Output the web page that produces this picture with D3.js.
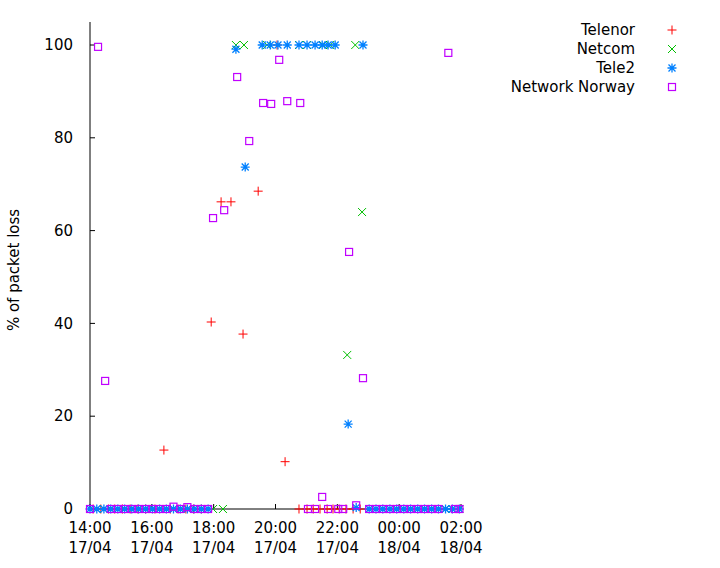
<!DOCTYPE html>
<html>
<head>
<meta charset="utf-8">
<script src="https://cdn.jsdelivr.net/npm/d3@7"></script>
<style>
  body { margin: 0; background: #fff; }
  text { font-family: "DejaVu Sans", sans-serif; font-size: 15px; fill: #000; }
</style>
</head>
<body>
<div id="chart"></div>
<script>
// hours after 14:00 17/04, and % packet loss
const telenorHours = [0.1, 0.35, 0.6, 0.8, 1.05, 1.3, 1.55, 1.8, 2.1, 2.39, 2.6, 2.85, 3.1, 3.35, 3.6, 3.92, 4.24, 4.56, 4.95, 5.44, 6.05, 6.31, 6.76, 7.02, 7.22, 7.44, 7.67, 7.86, 8.06, 8.28, 8.51, 8.74];
const telenorLoss  = [0, 0, 0, 0, 0, 0, 0, 0, 0, 12.7, 0, 0, 0, 0, 0, 40.3, 66.2, 66.2, 37.7, 68.5, 100, 10.2, 0, 0, 0, 0, 0, 0, 0, 0, 0, 0];

const netcomHours = [0.0, 0.22, 0.45, 0.67, 0.9, 1.12, 1.35, 1.57, 1.8, 2.02, 2.25, 2.47, 2.7, 2.92, 3.15, 3.37, 3.6, 3.98, 4.3, 4.72, 4.98, 5.73, 6.76, 7.02, 7.54, 7.77, 8.32, 8.58, 8.8, 9.03, 9.25, 9.47, 9.7, 9.92, 10.15, 10.37, 10.6, 10.82, 11.05, 11.27, 11.5, 11.72, 11.95];
const netcomLoss  = [0, 0, 0, 0, 0, 0, 0, 0, 0, 0, 0, 0, 0, 0, 0, 0, 0, 0, 0, 100, 100, 100, 100, 100, 100, 100, 33.2, 100, 64.0, 0, 0, 0, 0, 0, 0, 0, 0, 0, 0, 0, 0, 0, 0];

const tele2Hours = [0.0, 0.22, 0.45, 0.67, 0.9, 1.12, 1.35, 1.57, 1.8, 2.02, 2.25, 2.47, 2.7, 2.92, 3.15, 3.37, 3.6, 3.82, 4.72, 5.02, 5.57, 5.83, 6.08, 6.38, 6.76, 7.02, 7.28, 7.51, 7.7, 7.93, 8.35, 8.61, 8.83, 9.03, 9.25, 9.47, 9.7, 9.92, 10.15, 10.37, 10.6, 10.82, 11.05, 11.27, 11.5, 11.72, 11.95];
const tele2Loss  = [0, 0, 0, 0, 0, 0, 0, 0, 0, 0, 0, 0, 0, 0, 0, 0, 0, 0, 99.1, 73.7, 100, 100, 100, 100, 100, 100, 100, 100, 100, 100, 18.3, 0.3, 100, 0, 0, 0, 0, 0, 0, 0, 0, 0, 0, 0, 0, 0, 0];

const norwayHours = [0.0, 0.26, 0.49, 0.67, 0.9, 1.12, 1.35, 1.57, 1.8, 2.02, 2.25, 2.47, 2.7, 2.92, 3.15, 3.37, 3.6, 3.82, 3.98, 4.34, 4.76, 5.15, 5.6, 5.86, 6.12, 6.38, 6.8, 7.05, 7.28, 7.51, 7.7, 8.03, 8.19, 8.38, 8.61, 8.83, 9.03, 9.25, 9.47, 9.7, 9.92, 10.15, 10.37, 10.6, 10.82, 11.05, 11.27, 11.59, 11.8, 11.95];
const norwayLoss  = [0, 99.6, 27.6, 0, 0, 0, 0, 0, 0, 0, 0, 0, 0.5, 0, 0.4, 0, 0, 0, 62.7, 64.4, 93.1, 79.3, 87.5, 87.3, 96.8, 87.9, 87.5, 0, 0, 2.6, 0, 0, 0, 55.4, 0.8, 28.2, 0, 0, 0, 0, 0, 0, 0, 0, 0, 0, 0, 98.3, 0, 0];

const tickHours = [0, 2, 4, 6, 8, 10, 12];
const tickTimes = ["14:00", "16:00", "18:00", "20:00", "22:00", "00:00", "02:00"];
const tickDates = ["17/04", "17/04", "17/04", "17/04", "17/04", "18/04", "18/04"];
const yTicks = [0, 20, 40, 60, 80, 100];

const svg = d3.select("#chart").append("svg").attr("width", 720).attr("height", 568);

const x = d3.scaleLinear().domain([0, 12]).range([90, 461]);
const y = d3.scaleLinear().domain([0, 100]).range([509, 45]);

// axes
svg.append("line").attr("x1", 90).attr("x2", 90).attr("y1", 22).attr("y2", 509).attr("stroke", "black");
svg.append("line").attr("x1", 90).attr("x2", 461).attr("y1", 509).attr("y2", 509).attr("stroke", "black");

yTicks.forEach(function (t) {
  svg.append("line").attr("x1", 90).attr("x2", 95).attr("y1", y(t)).attr("y2", y(t)).attr("stroke", "black");
  svg.append("text").attr("x", 73).attr("y", y(t)).attr("dy", "0.35em").attr("text-anchor", "end").text(t);
});

tickHours.forEach(function (h, i) {
  svg.append("line").attr("x1", x(h)).attr("x2", x(h)).attr("y1", 509).attr("y2", 504).attr("stroke", "black");
  svg.append("text").attr("x", x(h)).attr("y", 533).attr("text-anchor", "middle").text(tickTimes[i]);
  svg.append("text").attr("x", x(h)).attr("y", 553).attr("text-anchor", "middle").text(tickDates[i]);
});

svg.append("text")
  .attr("transform", "translate(19,270) rotate(-90)")
  .attr("text-anchor", "middle")
  .text("% of packet loss");

// marker shapes
function plus(g, c) {
  g.append("path").attr("d", "M-4.5,0H4.5M0,-4.5V4.5").attr("stroke", c).attr("fill", "none");
}
function cross(g, c) {
  g.append("path").attr("d", "M-4,-4L4,4M-4,4L4,-4").attr("stroke", c).attr("fill", "none");
}
function star(g, c) {
  g.append("path").attr("d", "M-4.5,0H4.5M0,-4.5V4.5M-3.5,-3.5L3.5,3.5M-3.5,3.5L3.5,-3.5").attr("stroke", c).attr("stroke-width", 1.3).attr("fill", "none");
}
function square(g, c) {
  g.append("rect").attr("x", -3.5).attr("y", -3.5).attr("width", 7).attr("height", 7).attr("stroke", c).attr("stroke-width", 1.2).attr("fill", "none");
}

const series = [
  { name: "Telenor", hours: telenorHours, loss: telenorLoss, color: "#ff0000", draw: plus },
  { name: "Netcom", hours: netcomHours, loss: netcomLoss, color: "#00c000", draw: cross },
  { name: "Tele2", hours: tele2Hours, loss: tele2Loss, color: "#0080ff", draw: star },
  { name: "Network Norway", hours: norwayHours, loss: norwayLoss, color: "#c000ff", draw: square },
];

series.forEach(function (s, si) {
  const g = svg.append("g");
  s.hours.forEach(function (h, i) {
    const m = g.append("g").attr("transform", "translate(" + x(h) + "," + y(s.loss[i]) + ")");
    s.draw(m, s.color);
  });
  // legend
  const ly = 30 + si * 19;
  svg.append("text").attr("x", 635).attr("y", ly).attr("dy", "0.35em").attr("text-anchor", "end").text(s.name);
  const lm = svg.append("g").attr("transform", "translate(672," + ly + ")");
  s.draw(lm, s.color);
});
</script>
</body>
</html>
